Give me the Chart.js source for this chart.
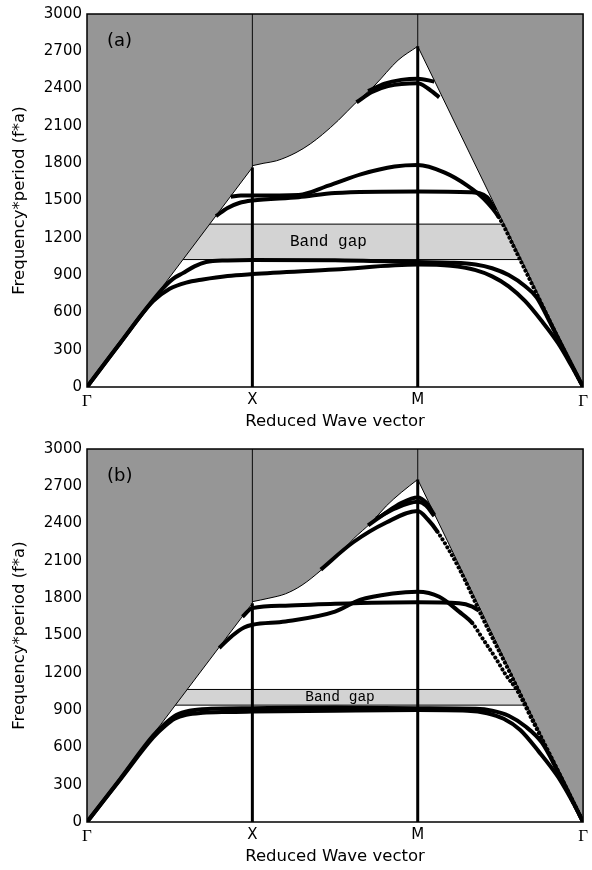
<!DOCTYPE html>
<html>
<head>
<meta charset="utf-8">
<script src="https://cdn.jsdelivr.net/npm/chart.js@4"></script>
<style>
  body { margin: 0; background: #fff; }
  canvas { display: block; }
</style>
</head>
<body>
<canvas id="chartA" width="592" height="435"></canvas>
<canvas id="chartB" width="592" height="435"></canvas>
<script>
// high symmetry points along the x axis
const kTicks = [0, 1, 2, 3];
const kNames = ['Γ', 'X', 'M', 'Γ'];
const freqTicks = [0, 300, 600, 900, 1200, 1500, 1800, 2100, 2400, 2700, 3000];

// panel (a) - sound cone edges [k, f*a]
const aLightLeft = [[0, 0], [1, 1766]];
const aUpperEdge = [[1, 1780], [1.07, 1800], [1.145, 1819], [1.264, 1885], [1.35, 1955], [1.424, 2031],
  [1.52, 2145], [1.623, 2283], [1.742, 2429], [1.881, 2628], [2, 2740]];
const aLightRight = [[2, 2740], [3, 0]];
const aGap = [1025, 1310];

// panel (a) - bands
const aBand1 = [[0, 0], [0.2, 352], [0.4, 690], [0.5, 790], [0.6, 840], [0.7, 865], [0.85, 893], [1, 908],
  [1.5, 945], [2, 985], [2.2, 975], [2.35, 940], [2.45, 890], [2.55, 810], [2.65, 690], [2.75, 530],
  [2.85, 350], [2.93, 170], [3, 0]];
const aBand2 = [[0, 0], [0.2, 353], [0.45, 780], [0.52, 870], [0.58, 916], [0.65, 970], [0.72, 1005],
  [0.85, 1018], [1, 1022], [1.5, 1020], [2, 1005], [2.2, 1000], [2.35, 985], [2.45, 955], [2.55, 900],
  [2.65, 810], [2.72, 720], [2.8, 520], [2.9, 260], [3, 0]];
const aBand3 = [[0.87, 1530], [0.93, 1540], [1, 1540], [1.28, 1545], [1.46, 1620], [1.66, 1712], [1.86, 1773],
  [2, 1785], [2.16, 1726], [2.3, 1620], [2.4, 1513], [2.49, 1366], [2.6, 1075], [2.75, 665], [2.9, 255], [3, 0]];
const aBand4 = [[0.78, 1375], [0.85, 1440], [0.92, 1480], [1, 1500], [1.28, 1527], [1.5, 1560], [2, 1572],
  [2.32, 1566], [2.42, 1527], [2.47, 1420]];
const aBand5 = [[1.7, 2380], [1.8, 2440], [1.9, 2470], [2, 2480], [2.1, 2456]];
const aBand6 = [[1.63, 2290], [1.72, 2370], [1.82, 2420], [2, 2443], [2.06, 2403], [2.13, 2330]];

// panel (b) - sound cone edges
const bLightLeft = [[0, 0], [1, 1759]];
const bUpperEdge = [[1, 1772], [1.1, 1800], [1.2, 1835], [1.3, 1905], [1.42, 2030], [1.52, 2150],
  [1.61, 2276], [1.72, 2410], [1.81, 2542], [1.9, 2650], [2, 2755]];
const bLightRight = [[2, 2755], [3, 0]];
const bGap = [940, 1066];

// panel (b) - bands
const bBand1 = [[0, 0], [0.2, 340], [0.4, 680], [0.47, 770], [0.53, 830], [0.6, 862], [0.7, 878], [0.85, 885],
  [1, 888], [1.5, 895], [2, 900], [2.3, 895], [2.42, 875], [2.52, 830], [2.62, 740], [2.73, 570],
  [2.85, 360], [2.95, 130], [3, 0]];
const bBand2 = [[0, 0], [0.2, 345], [0.4, 695], [0.48, 800], [0.54, 860], [0.62, 895], [0.75, 910], [1, 915],
  [1.5, 920], [2, 915], [2.35, 910], [2.45, 895], [2.55, 855], [2.65, 770], [2.75, 640], [2.85, 400],
  [2.95, 135], [3, 0]];
const bBand3 = [[0.8, 1400], [0.88, 1500], [0.95, 1565], [1, 1587], [1.2, 1613], [1.5, 1692], [1.65, 1786],
  [1.85, 1838], [2, 1852], [2.13, 1812], [2.25, 1692], [2.33, 1600], [2.39, 1480], [2.47, 1321],
  [2.53, 1189], [2.6, 1060], [2.7, 800], [2.8, 540], [2.9, 270], [3, 0]];
const bBand4 = [[0.94, 1650], [1, 1720], [1.2, 1740], [1.5, 1755], [2, 1767], [2.25, 1759], [2.33, 1732], [2.37, 1700]];
const bBand5 = [[1.414, 2030], [1.61, 2250], [1.81, 2409], [2, 2502], [2.06, 2435], [2.12, 2334], [2.25, 2040],
  [2.4, 1620], [2.55, 1220], [2.7, 810], [2.85, 400], [3, 0]];
const bBand6 = [[1.7, 2385], [1.8, 2480], [1.9, 2565], [2, 2610], [2.05, 2570], [2.1, 2470]];
const bBand7 = [[1.75, 2440], [1.86, 2520], [2, 2575], [2.05, 2545], [2.1, 2460]];

const GRAY = '#969696';
const GAP_GRAY = '#d3d3d3';

function pts(arr) {
    return arr.map(([x, y]) => ({ x: x, y: y }));
}

function lineSet(arr, width, order, extra) {
    return Object.assign({
        data: pts(arr),
        borderColor: '#000',
        borderWidth: width,
        pointRadius: 0,
        fill: false,
        order: order
    }, extra || {});
}

function buildDatasets(p) {
    const ds = [];
    // bands, the steep tails are drawn dotted like the original point plot
    p.bands.forEach((b, i) => {
        const dotFrom = p.dotted[i];
        const extra = { cubicInterpolationMode: 'monotone' };
        if (dotFrom !== undefined) {
            extra.segment = {
                borderDash: ctx => ctx.p0.parsed.x >= dotFrom ? [0.1, 4.5] : undefined,
                borderCapStyle: ctx => ctx.p0.parsed.x >= dotFrom ? 'round' : 'butt'
            };
        }
        ds.push(lineSet(b, 4, 1, extra));
    });

    // symmetry point lines: thick inside the cone, thin above it
    const kX = kTicks[1], kM = kTicks[2];
    const xEdge = p.lightLeft[p.lightLeft.length - 1][1];
    const mEdge = p.lightRight[0][1];
    const top = freqTicks[freqTicks.length - 1];
    ds.push(lineSet([[kX, 0], [kX, xEdge]], 3, 2));
    ds.push(lineSet([[kM, 0], [kM, mEdge]], 3, 2));
    ds.push(lineSet([[kX, xEdge], [kX, top]], 1, 2));
    ds.push(lineSet([[kM, mEdge], [kM, top]], 1, 2));

    // gray regions above the sound cone
    [p.lightLeft, p.upperEdge, p.lightRight].forEach(edge => {
        ds.push(lineSet(edge, 1, 4, { fill: 'end', backgroundColor: GRAY, cubicInterpolationMode: 'monotone' }));
    });

    // band gap strip (gray regions cover its ends)
    const kMin = kTicks[0], kMax = kTicks[kTicks.length - 1];
    ds.push(lineSet([[kMin, p.gap[0]], [kMax, p.gap[0]]], 1, 5));
    ds.push(lineSet([[kMin, p.gap[1]], [kMax, p.gap[1]]], 1, 5, { fill: '-1', backgroundColor: GAP_GRAY }));
    return ds;
}

function makeChart(id, p) {
    const labels = {
        id: 'labels' + id,
        afterDatasetsDraw(chart) {
            const { ctx, chartArea, scales } = chart;
            ctx.save();
            // frame
            ctx.strokeStyle = '#000';
            ctx.lineWidth = 1.5;
            ctx.strokeRect(chartArea.left, chartArea.top, chartArea.right - chartArea.left, chartArea.bottom - chartArea.top);
            // panel label
            ctx.fillStyle = '#000';
            ctx.font = '18px "DejaVu Sans"';
            ctx.textAlign = 'left';
            ctx.textBaseline = 'middle';
            ctx.fillText(p.tag, chartArea.left + 20, chartArea.top + 27);
            // band gap text
            ctx.font = p.gapFont + 'px "Liberation Mono"';
            ctx.textAlign = 'center';
            ctx.fillText('Band gap', scales.x.getPixelForValue(p.gapTextK), scales.y.getPixelForValue((p.gap[0] + p.gap[1]) / 2));
            ctx.restore();
        }
    };

    new Chart(document.getElementById(id).getContext('2d'), {
        type: 'line',
        data: { datasets: buildDatasets(p) },
        options: {
            responsive: false,
            animation: false,
            events: [],
            layout: { padding: { top: 10, right: 7, left: 0, bottom: 0 } },
            scales: {
                x: {
                    type: 'linear',
                    min: kTicks[0],
                    max: kTicks[kTicks.length - 1],
                    afterBuildTicks: s => { s.ticks = kTicks.map(v => ({ value: v })); },
                    afterFit: s => { s.height = 48; },
                    grid: { display: false, drawTicks: false },
                    border: { display: false },
                    ticks: {
                        padding: 4,
                        color: '#000',
                        maxRotation: 0,
                        autoSkip: false,
                        font: ctx => ({
                            family: kNames[ctx.index] === 'Γ' ? 'Liberation Serif' : 'DejaVu Sans',
                            size: kNames[ctx.index] === 'Γ' ? 17 : 15
                        }),
                        callback: v => kNames[kTicks.indexOf(v)]
                    },
                    title: {
                        display: true,
                        text: 'Reduced Wave vector',
                        color: '#000',
                        font: { family: 'DejaVu Sans', size: 16.5 },
                        padding: { top: 0, bottom: 3 }
                    }
                },
                y: {
                    min: freqTicks[0],
                    max: freqTicks[freqTicks.length - 1],
                    afterBuildTicks: s => { s.ticks = freqTicks.map(v => ({ value: v })); },
                    afterFit: s => { s.width = 87; },
                    grid: { display: false, drawTicks: false },
                    border: { display: false },
                    ticks: {
                        padding: 5,
                        color: '#000',
                        font: { family: 'DejaVu Sans', size: 15 },
                        callback: v => String(v)
                    },
                    title: {
                        display: true,
                        text: 'Frequency*period (f*a)',
                        color: '#000',
                        font: { family: 'DejaVu Sans', size: 16.5 },
                        padding: { top: 10, bottom: 0 }
                    }
                }
            },
            plugins: {
                legend: { display: false },
                tooltip: { enabled: false }
            }
        },
        plugins: [labels]
    });
}

makeChart('chartA', {
    tag: '(a)',
    lightLeft: aLightLeft,
    upperEdge: aUpperEdge,
    lightRight: aLightRight,
    gap: aGap,
    gapFont: 16,
    gapTextK: 1.46,
    bands: [aBand1, aBand2, aBand3, aBand4, aBand5, aBand6],
    dotted: { 2: 2.49 }
});

makeChart('chartB', {
    tag: '(b)',
    lightLeft: bLightLeft,
    upperEdge: bUpperEdge,
    lightRight: bLightRight,
    gap: bGap,
    gapFont: 14.5,
    gapTextK: 1.53,
    bands: [bBand1, bBand2, bBand3, bBand4, bBand5, bBand6, bBand7],
    dotted: { 2: 2.3, 4: 2.12 }
});
</script>
</body>
</html>
